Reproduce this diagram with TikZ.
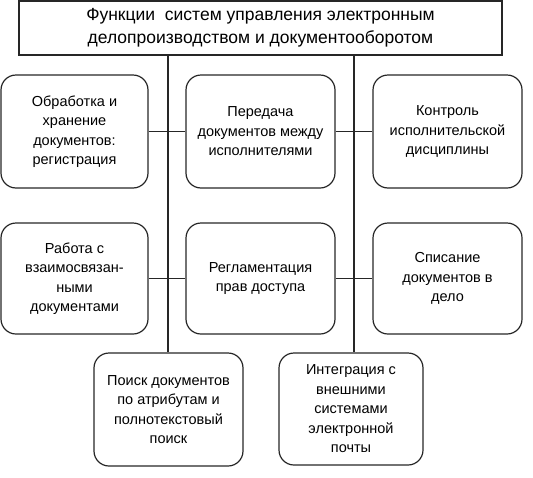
\documentclass[tikz,border=0pt]{standalone}
\usepackage{fontspec}
\setmainfont{Liberation Sans}
\begin{document}
\begin{tikzpicture}[x=1pt,y=-1pt,
  box/.style={draw=black!85, rounded corners=15pt, line width=1.2pt, align=center,
    font=\fontsize{14.5}{19.5}\selectfont, inner sep=0pt},
  titlebox/.style={draw=black!85, line width=1.2pt, align=center,
    font=\fontsize{17.5}{23}\selectfont, inner sep=0pt},
  conn/.style={draw=black!85, line width=1.2pt}]
\useasboundingbox (0,0) rectangle (533,477);
\node[titlebox, minimum width=483pt, minimum height=54pt] (top) at (260.5,28)
  {Функции\ \ систем управления электронным\\делопроизводством и документооборотом};
% row 1
\node[box, minimum width=147pt, minimum height=113pt] (a1) at (74.5,131.5)
  {Обработка и\\хранение\\документов:\\регистрация};
\node[box, minimum width=149pt, minimum height=113pt] (a2) at (260.5,131.5)
  {Передача\\документов между\\исполнителями};
\node[box, minimum width=149pt, minimum height=113pt] (a3) at (447.5,131.5)
  {Контроль\\исполнительской\\дисциплины};
% row 2
\node[box, minimum width=147pt, minimum height=111pt] (b1) at (74.5,278.5)
  {Работа с\\взаимосвязан-\\ными\\документами};
\node[box, minimum width=149pt, minimum height=111pt] (b2) at (260.5,278.5)
  {Регламентация\\прав доступа};
\node[box, minimum width=149pt, minimum height=111pt] (b3) at (447.5,278.5)
  {Списание\\документов в\\дело};
% row 3
\node[box, minimum width=149pt, minimum height=113pt] (c1) at (168.5,409.5)
  {Поиск документов\\по атрибутам и\\полнотекстовый\\поиск};
\node[box, minimum width=144pt, minimum height=112pt] (c2) at (351,409)
  {Интеграция с\\внешними\\системами\\электронной\\почты};
% vertical trunks
\coordinate (vl) at (168,55);
\coordinate (vr) at (354,55);
\draw[conn] (vl) -- (vl |- c1.north);
\draw[conn] (vr) -- (vr |- c2.north);
% horizontal links
\draw[conn] (a1.east) -- (a2.west);
\draw[conn] (a2.east) -- (a3.west);
\draw[conn] (b1.east) -- (b2.west);
\draw[conn] (b2.east) -- (b3.west);
\end{tikzpicture}
\end{document}
